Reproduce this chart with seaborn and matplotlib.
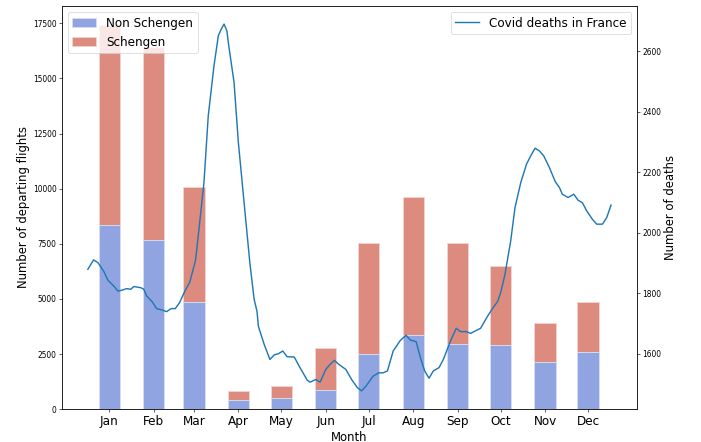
import matplotlib
matplotlib.use("Agg")
import matplotlib.pyplot as plt
from matplotlib.patches import Patch
import seaborn as sns
import numpy as np
import pandas as pd

# monthly departing flights
months = ["Jan", "Feb", "Mar", "Apr", "May", "Jun",
          "Jul", "Aug", "Sep", "Oct", "Nov", "Dec"]
month_lengths = [31, 28, 31, 30, 31, 30, 31, 31, 30, 31, 30, 31]
non_schengen = [8360, 7690, 4880, 420, 530, 890, 2490, 3370, 2980, 2900, 2160, 2600]
schengen = [9060, 8720, 5190, 400, 540, 1900, 5040, 6270, 4550, 3600, 1740, 2270]

# daily deaths (day of year)
days = [0, 4, 7, 11, 14, 18, 21, 24, 27, 30, 32, 37, 39, 41, 45, 48, 52, 55, 58, 61,
        64, 68, 71, 75, 76, 81, 84, 88, 91, 93, 95, 97, 98, 102, 105, 109, 113, 116,
        118, 119, 123, 127, 130, 133, 136, 139, 144, 148, 153, 155, 159, 162, 166,
        169, 172, 175, 180, 184, 188, 191, 194, 196, 199, 203, 206, 209, 213, 218,
        222, 225, 229, 232, 235, 238, 241, 245, 248, 253, 257, 260, 264, 267, 271,
        274, 279, 282, 286, 288, 291, 295, 298, 302, 306, 309, 312, 315, 318, 322,
        326, 329, 331, 335, 339, 342, 345, 348, 352, 355, 359, 362, 365]
deaths = [1879, 1910, 1901, 1873, 1843, 1824, 1807, 1810, 1815, 1813, 1822, 1818, 1813,
          1791, 1771, 1749, 1744, 1739, 1749, 1749, 1769, 1810, 1835, 1906, 1945, 2165,
          2386, 2551, 2650, 2672, 2689, 2667, 2628, 2496, 2298, 2099, 1901, 1780, 1740,
          1690, 1631, 1581, 1596, 1600, 1609, 1590, 1589, 1554, 1513, 1506, 1515, 1506,
          1548, 1565, 1578, 1565, 1548, 1515, 1488, 1477, 1493, 1506, 1526, 1537, 1537,
          1543, 1609, 1644, 1661, 1645, 1640, 1587, 1543, 1519, 1543, 1554, 1581, 1642,
          1684, 1673, 1673, 1667, 1677, 1684, 1725, 1747, 1774, 1802, 1862, 1973, 2083,
          2165, 2226, 2254, 2279, 2270, 2254, 2215, 2169, 2149, 2127, 2116, 2127, 2107,
          2099, 2072, 2044, 2028, 2028, 2050, 2091]

blue = "#8fa4e0"
red = "#dd8b7f"

mid_month = np.cumsum([0] + month_lengths[:-1]) + 15
df = pd.DataFrame({"day": mid_month,
                   "non": non_schengen,
                   "total": np.add(non_schengen, schengen)})

fig, ax = plt.subplots(figsize=(701 / 54, 442 / 54), dpi=54)
fig.subplots_adjust(left=0.088, right=0.909, bottom=0.074, top=0.987)

# stacked bars: total first (red), then non schengen on top (blue)
sns.barplot(data=df, x="day", y="total", native_scale=True, orient="x", width=0.53,
            color=red, saturation=1, errorbar=None, edgecolor="#f3d4cf", linewidth=1.2, ax=ax)
sns.barplot(data=df, x="day", y="non", native_scale=True, orient="x", width=0.53,
            color=blue, saturation=1, errorbar=None, edgecolor="#d8e0f5", linewidth=1.2, ax=ax)

ax2 = ax.twinx()
sns.lineplot(x=days, y=deaths, ax=ax2, color="#1f77b4", linewidth=1.9,
             label="Covid deaths in France")

ax.set_xticks(mid_month)
ax.set_xticklabels(months, fontsize=16)
ax.set_xlabel("Month", fontsize=15.5)
ax.set_ylabel("Number of departing flights", fontsize=15.5)
ax2.set_ylabel("Number of deaths", fontsize=15.5)

handles = [Patch(facecolor=blue, edgecolor="#d8e0f5", label="Non Schengen"),
           Patch(facecolor=red, edgecolor="#f3d4cf", label="Schengen")]
ax.legend(handles=handles, loc="upper left", fontsize=16)
ax2.legend(loc="upper right", fontsize=16)

fig.savefig("out.png", dpi=54)
